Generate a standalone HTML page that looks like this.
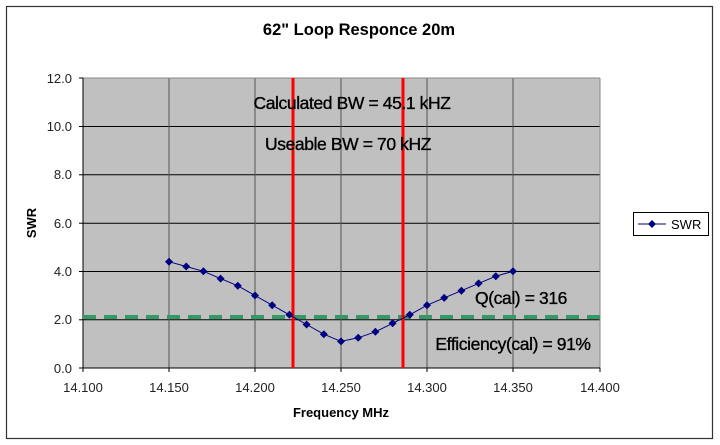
<!DOCTYPE html>
<html><head><meta charset="utf-8"><style>
html,body{margin:0;padding:0;background:#fff;}
svg{display:block;}
text{font-family:"Liberation Sans",Arial,sans-serif;}
</style></head><body>
<svg width="720" height="445" viewBox="0 0 720 445" xmlns="http://www.w3.org/2000/svg">
<rect x="0" y="0" width="720" height="445" fill="#fff"/>
<rect x="6.5" y="6.5" width="706" height="432" fill="none" stroke="#333" stroke-width="1.2"/>
<text x="359" y="35" font-size="16.5" font-weight="bold" text-anchor="middle" fill="#000">62" Loop Responce 20m</text>
<rect x="83" y="78" width="517" height="290" fill="#c0c0c0"/>
<g stroke="#000" stroke-width="1">
<line x1="83" y1="126.5" x2="600" y2="126.5"/>
<line x1="83" y1="174.8" x2="600" y2="174.8"/>
<line x1="83" y1="223.2" x2="600" y2="223.2"/>
<line x1="83" y1="271.5" x2="600" y2="271.5"/>
<line x1="83" y1="319.8" x2="600" y2="319.8"/>
</g>
<g stroke="#555" stroke-width="1">
<line x1="169" y1="78" x2="169" y2="368"/>
<line x1="255" y1="78" x2="255" y2="368"/>
<line x1="341" y1="78" x2="341" y2="368"/>
<line x1="427" y1="78" x2="427" y2="368"/>
<line x1="513" y1="78" x2="513" y2="368"/>
</g>
<line x1="83" y1="78" x2="600" y2="78" stroke="#888"/>
<line x1="600" y1="78" x2="600" y2="368" stroke="#888"/>
<line x1="83" y1="78" x2="83" y2="368" stroke="#000"/>
<line x1="83" y1="368" x2="600" y2="368" stroke="#000"/>
<g stroke="#000">
<line x1="79" y1="78" x2="83" y2="78"/><line x1="79" y1="126.5" x2="83" y2="126.5"/><line x1="79" y1="174.8" x2="83" y2="174.8"/><line x1="79" y1="223.2" x2="83" y2="223.2"/><line x1="79" y1="271.5" x2="83" y2="271.5"/><line x1="79" y1="319.8" x2="83" y2="319.8"/><line x1="79" y1="368" x2="83" y2="368"/>
<line x1="83" y1="368" x2="83" y2="372"/><line x1="169" y1="368" x2="169" y2="372"/><line x1="255" y1="368" x2="255" y2="372"/><line x1="341" y1="368" x2="341" y2="372"/><line x1="427" y1="368" x2="427" y2="372"/><line x1="513" y1="368" x2="513" y2="372"/><line x1="600" y1="368" x2="600" y2="372"/>
</g>
<g font-size="13" fill="#222" text-anchor="end">
<text x="72" y="83">12.0</text><text x="72" y="131">10.0</text><text x="72" y="179">8.0</text><text x="72" y="228">6.0</text><text x="72" y="276">4.0</text><text x="72" y="324">2.0</text><text x="72" y="373">0.0</text>
</g>
<g font-size="13" fill="#222" text-anchor="middle">
<text x="83" y="392">14.100</text><text x="169" y="392">14.150</text><text x="255" y="392">14.200</text><text x="341" y="392">14.250</text><text x="427" y="392">14.300</text><text x="513" y="392">14.350</text><text x="600" y="392">14.400</text>
</g>
<text x="341" y="417" font-size="13" font-weight="bold" text-anchor="middle">Frequency MHz</text>
<text x="0" y="0" font-size="13" font-weight="bold" text-anchor="middle" transform="translate(36,223) rotate(-90)">SWR</text>
<line x1="83" y1="317" x2="600" y2="317" stroke="#339966" stroke-width="4" stroke-dasharray="13,8"/>
<line x1="293" y1="78" x2="293" y2="368" stroke="#ff0000" stroke-width="3"/>
<line x1="403" y1="78" x2="403" y2="368" stroke="#ff0000" stroke-width="3"/>
<polyline fill="none" stroke="#000080" stroke-width="1" points="169,261.7 186.2,266.5 203.4,271.3 220.6,278.6 237.8,285.8 255,295.5 272.2,305.2 289.4,314.8 306.6,324.5 323.8,334.2 341,341.4 358.2,337.8 375.4,331.8 392.6,323.3 409.8,314.8 427,305.2 444.2,297.9 461.4,290.7 478.6,283.4 495.8,276.2 513,271.3"/>
<g fill="#000080">
<path d="M169,257.7l4,4l-4,4l-4,-4z"/><path d="M186.2,262.5l4,4l-4,4l-4,-4z"/><path d="M203.4,267.3l4,4l-4,4l-4,-4z"/><path d="M220.6,274.6l4,4l-4,4l-4,-4z"/><path d="M237.8,281.8l4,4l-4,4l-4,-4z"/><path d="M255,291.5l4,4l-4,4l-4,-4z"/><path d="M272.2,301.2l4,4l-4,4l-4,-4z"/><path d="M289.4,310.8l4,4l-4,4l-4,-4z"/><path d="M306.6,320.5l4,4l-4,4l-4,-4z"/><path d="M323.8,330.2l4,4l-4,4l-4,-4z"/><path d="M341,337.4l4,4l-4,4l-4,-4z"/><path d="M358.2,333.8l4,4l-4,4l-4,-4z"/><path d="M375.4,327.8l4,4l-4,4l-4,-4z"/><path d="M392.6,319.3l4,4l-4,4l-4,-4z"/><path d="M409.8,310.8l4,4l-4,4l-4,-4z"/><path d="M427,301.2l4,4l-4,4l-4,-4z"/><path d="M444.2,293.9l4,4l-4,4l-4,-4z"/><path d="M461.4,286.7l4,4l-4,4l-4,-4z"/><path d="M478.6,279.4l4,4l-4,4l-4,-4z"/><path d="M495.8,272.2l4,4l-4,4l-4,-4z"/><path d="M513,267.3l4,4l-4,4l-4,-4z"/>
</g>
<g font-size="17.5" fill="#000" stroke="#000" stroke-width="0.35" text-anchor="middle" letter-spacing="-0.4">
<text x="352" y="109">Calculated BW = 45.1 kHZ</text>
<text x="348" y="150">Useable BW = 70 kHZ</text>
<text x="521" y="304">Q(cal) = 316</text>
<text x="513" y="350">Efficiency(cal) = 91%</text>
</g>
<rect x="633.5" y="212.5" width="75" height="23" fill="#fff" stroke="#000" stroke-width="1"/>
<line x1="638" y1="224" x2="666" y2="224" stroke="#000080"/>
<path d="M652,220l4,4l-4,4l-4,-4z" fill="#000080"/>
<text x="671" y="229" font-size="13" fill="#000">SWR</text>
</svg>
</body></html>
